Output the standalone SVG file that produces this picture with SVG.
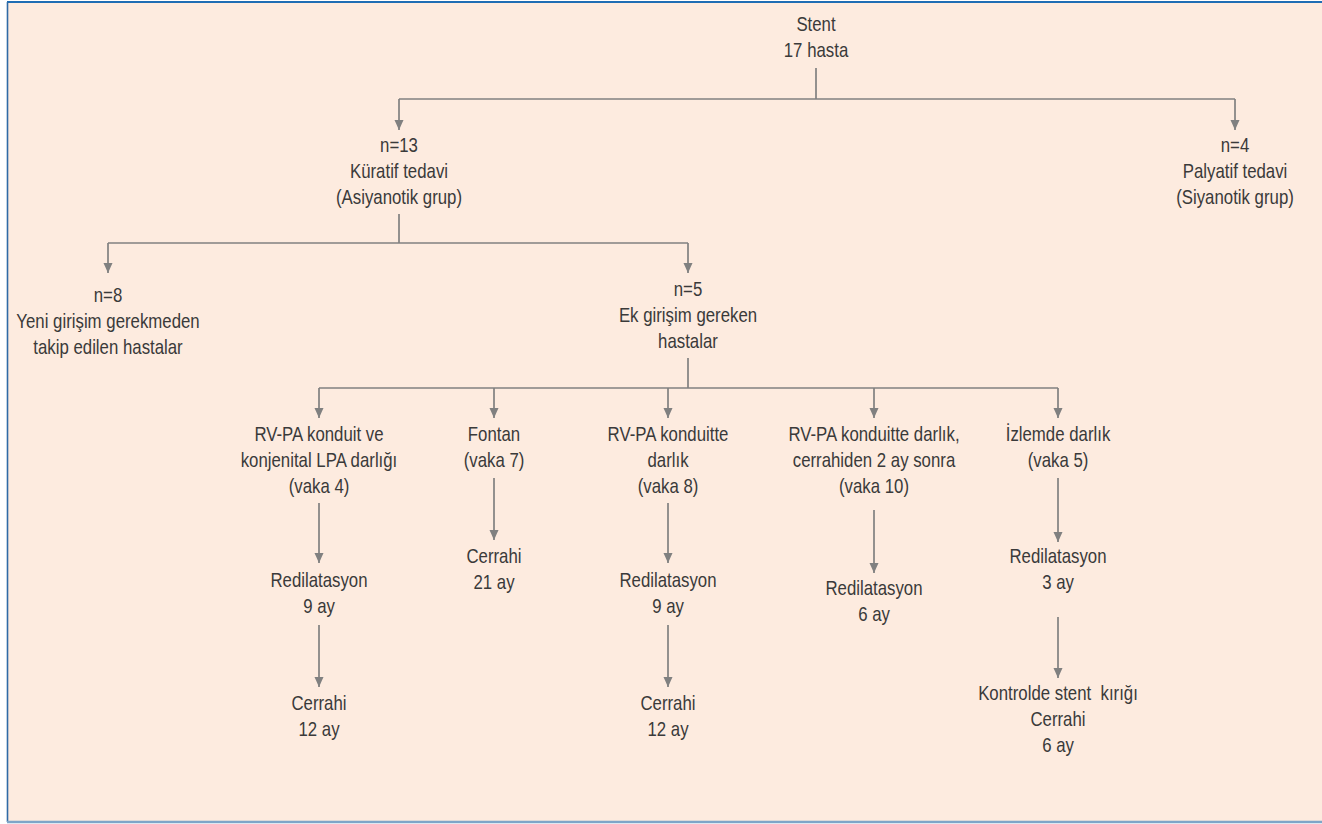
<svg xmlns="http://www.w3.org/2000/svg" width="1322" height="824" viewBox="0 0 1322 824">
<style>
.t{font-family:"Liberation Sans",Arial,sans-serif;font-size:20.5px;fill:#3a3a3a;text-anchor:middle}
.c{stroke:#808080;stroke-width:1.7;fill:none}
.a{marker-end:url(#ah)}
</style>
<defs>
<marker id="ah" markerUnits="userSpaceOnUse" markerWidth="10" markerHeight="10" refX="10" refY="4.5" orient="auto" viewBox="0 0 10 9">
<path d="M0,0 L10,4.5 L0,9 z" fill="#808080"/>
</marker>
</defs>
<rect x="0" y="0" width="1322" height="824" fill="#ffffff"/>
<rect x="8" y="3" width="1314" height="818" fill="#fdebdf"/>
<line x1="7" y1="2" x2="1322" y2="2" stroke="#1f6db4" stroke-width="2"/>
<line x1="7.5" y1="2" x2="7.5" y2="822" stroke="#2f6aa6" stroke-width="1.6"/>
<line x1="7" y1="822" x2="1322" y2="822" stroke="#7ea5c8" stroke-width="2.5"/>

<g id="connectors">
<path class="c" d="M816,68 V99"/>
<path class="c" d="M399,99 H1235"/>
<path class="c a" d="M399,99 V130"/>
<path class="c a" d="M1235,99 V130"/>
<path class="c" d="M399,214 V243"/>
<path class="c" d="M108,243 H688"/>
<path class="c a" d="M108,243 V273"/>
<path class="c a" d="M688,243 V273"/>
<path class="c" d="M688,358 V388"/>
<path class="c" d="M319,388 H1058"/>
<path class="c a" d="M319,388 V418"/>
<path class="c a" d="M494,388 V418"/>
<path class="c a" d="M668,388 V418"/>
<path class="c a" d="M874,388 V418"/>
<path class="c a" d="M1058,388 V418"/>
<path class="c a" d="M319,503 V563"/>
<path class="c a" d="M319,625 V687"/>
<path class="c a" d="M494,478 V540"/>
<path class="c a" d="M668,503 V563"/>
<path class="c a" d="M668,625 V687"/>
<path class="c a" d="M874,510 V573"/>
<path class="c a" d="M1058,478 V542"/>
<path class="c a" d="M1058,617 V678"/>
</g>

<g id="root" transform="translate(816,0) scale(0.82,1)">
<text class="t"><tspan x="0" y="31">Stent</tspan><tspan x="0" y="57">17 hasta</tspan></text>
</g>
<g id="kuratif" transform="translate(399,0) scale(0.82,1)">
<text class="t"><tspan x="0" y="152">n=13</tspan><tspan x="0" y="178">Küratif tedavi</tspan><tspan x="0" y="204">(Asiyanotik grup)</tspan></text>
</g>
<g id="palyatif" transform="translate(1235,0) scale(0.82,1)">
<text class="t"><tspan x="0" y="152">n=4</tspan><tspan x="0" y="178">Palyatif tedavi</tspan><tspan x="0" y="204">(Siyanotik grup)</tspan></text>
</g>
<g id="n8" transform="translate(108,0) scale(0.82,1)">
<text class="t"><tspan x="0" y="302">n=8</tspan><tspan x="0" y="328">Yeni girişim gerekmeden</tspan><tspan x="0" y="354">takip edilen hastalar</tspan></text>
</g>
<g id="n5" transform="translate(688,0) scale(0.82,1)">
<text class="t"><tspan x="0" y="296">n=5</tspan><tspan x="0" y="322">Ek girişim gereken</tspan><tspan x="0" y="348">hastalar</tspan></text>
</g>
<g id="vaka4" transform="translate(319,0) scale(0.82,1)">
<text class="t"><tspan x="0" y="441">RV-PA konduit ve</tspan><tspan x="0" y="467">konjenital LPA darlığı</tspan><tspan x="0" y="493">(vaka 4)</tspan></text>
</g>
<g id="vaka4-redil" transform="translate(319,0) scale(0.82,1)">
<text class="t"><tspan x="0" y="587">Redilatasyon</tspan><tspan x="0" y="613">9 ay</tspan></text>
</g>
<g id="vaka4-cerrahi" transform="translate(319,0) scale(0.82,1)">
<text class="t"><tspan x="0" y="710">Cerrahi</tspan><tspan x="0" y="736">12 ay</tspan></text>
</g>
<g id="vaka7" transform="translate(494,0) scale(0.82,1)">
<text class="t"><tspan x="0" y="441">Fontan</tspan><tspan x="0" y="467">(vaka 7)</tspan></text>
</g>
<g id="vaka7-cerrahi" transform="translate(494,0) scale(0.82,1)">
<text class="t"><tspan x="0" y="563">Cerrahi</tspan><tspan x="0" y="589">21 ay</tspan></text>
</g>
<g id="vaka8" transform="translate(668,0) scale(0.82,1)">
<text class="t"><tspan x="0" y="441">RV-PA konduitte</tspan><tspan x="0" y="467">darlık</tspan><tspan x="0" y="493">(vaka 8)</tspan></text>
</g>
<g id="vaka8-redil" transform="translate(668,0) scale(0.82,1)">
<text class="t"><tspan x="0" y="587">Redilatasyon</tspan><tspan x="0" y="613">9 ay</tspan></text>
</g>
<g id="vaka8-cerrahi" transform="translate(668,0) scale(0.82,1)">
<text class="t"><tspan x="0" y="710">Cerrahi</tspan><tspan x="0" y="736">12 ay</tspan></text>
</g>
<g id="vaka10" transform="translate(874,0) scale(0.82,1)">
<text class="t"><tspan x="0" y="441">RV-PA konduitte darlık,</tspan><tspan x="0" y="467">cerrahiden 2 ay sonra</tspan><tspan x="0" y="493">(vaka 10)</tspan></text>
</g>
<g id="vaka10-redil" transform="translate(874,0) scale(0.82,1)">
<text class="t"><tspan x="0" y="595">Redilatasyon</tspan><tspan x="0" y="621">6 ay</tspan></text>
</g>
<g id="vaka5" transform="translate(1058,0) scale(0.82,1)">
<text class="t"><tspan x="0" y="441">İzlemde darlık</tspan><tspan x="0" y="467">(vaka 5)</tspan></text>
</g>
<g id="vaka5-redil" transform="translate(1058,0) scale(0.82,1)">
<text class="t"><tspan x="0" y="563">Redilatasyon</tspan><tspan x="0" y="589">3 ay</tspan></text>
</g>
<g id="vaka5-cerrahi" transform="translate(1058,0) scale(0.82,1)">
<text class="t" xml:space="preserve"><tspan x="0" y="700">Kontrolde stent  kırığı</tspan><tspan x="0" y="726">Cerrahi</tspan><tspan x="0" y="752">6 ay</tspan></text>
</g>
</svg>
